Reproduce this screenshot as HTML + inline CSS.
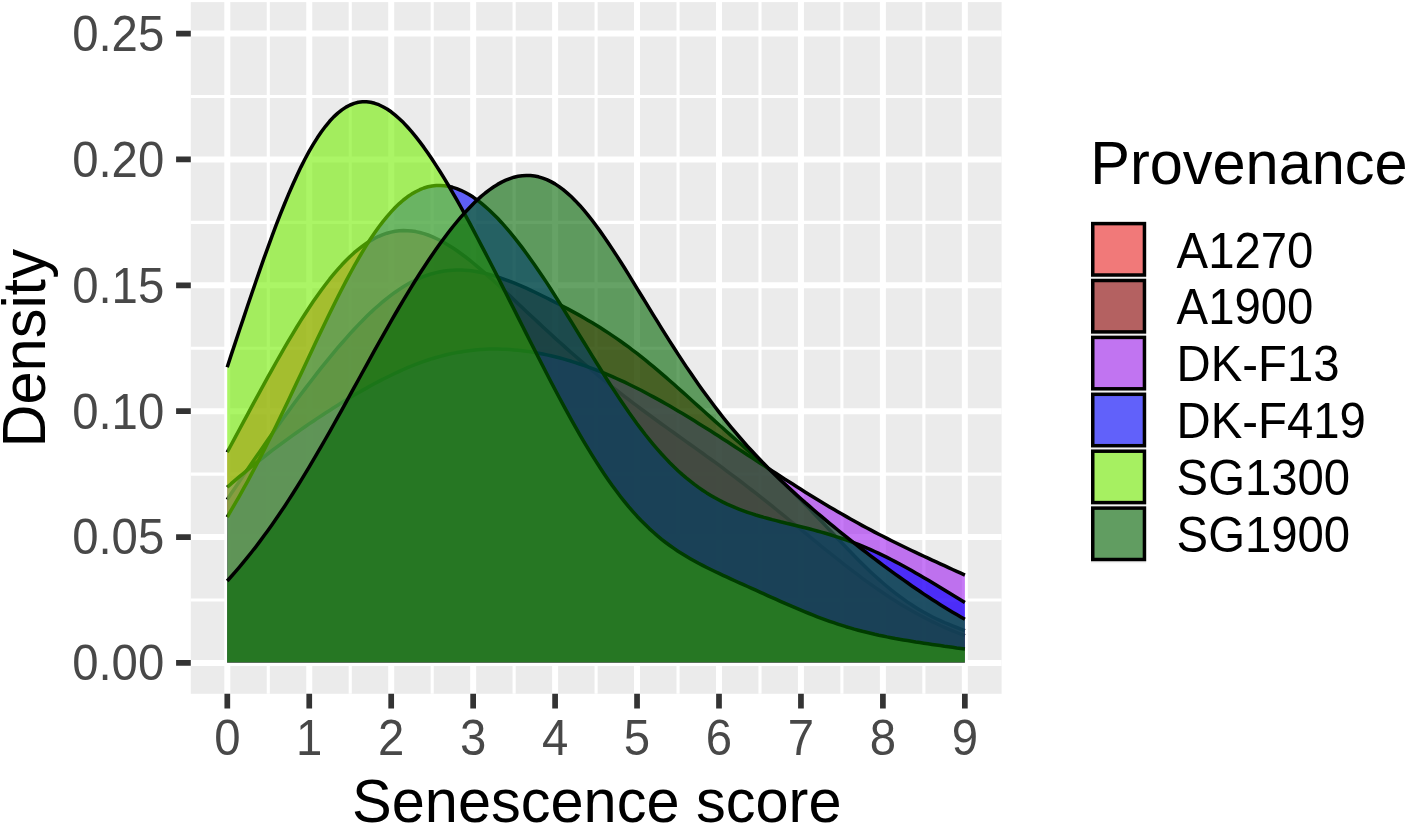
<!DOCTYPE html>
<html lang="en"><head><meta charset="utf-8"><title>Senescence score density</title>
<style>html,body{margin:0;padding:0;background:#fff}svg{display:block}text{font-family:"Liberation Sans",Arial,sans-serif}</style></head><body>
<svg width="1406" height="825" viewBox="0 0 1406 825">
<rect width="1406" height="825" fill="#ffffff"/>
<rect x="190.8" y="2.1" width="810.8" height="691.6999999999999" fill="#ebebeb"/>
<path d="M268.28 2.1V693.8M350.23 2.1V693.8M432.18 2.1V693.8M514.12 2.1V693.8M596.08 2.1V693.8M678.03 2.1V693.8M759.98 2.1V693.8M841.92 2.1V693.8M923.88 2.1V693.8M190.8 599.97H1001.6M190.8 474.11H1001.6M190.8 348.25H1001.6M190.8 222.39H1001.6M190.8 96.53H1001.6" stroke="#ffffff" stroke-width="3.1" fill="none"/>
<path d="M227.30 2.1V693.8M309.25 2.1V693.8M391.20 2.1V693.8M473.15 2.1V693.8M555.10 2.1V693.8M637.05 2.1V693.8M719.00 2.1V693.8M800.95 2.1V693.8M882.90 2.1V693.8M964.85 2.1V693.8M190.8 662.90H1001.6M190.8 537.04H1001.6M190.8 411.18H1001.6M190.8 285.32H1001.6M190.8 159.46H1001.6M190.8 33.60H1001.6" stroke="#ffffff" stroke-width="6.0" fill="none"/>
<path d="M227.2 452.2 L231.2 444.7 L235.3 437.1 L239.4 429.5 L243.5 421.9 L247.6 414.3 L251.7 406.7 L255.8 399.1 L259.9 391.6 L264.0 384.1 L268.1 376.6 L272.2 369.3 L276.3 362.0 L280.4 354.8 L284.5 347.7 L288.6 340.7 L292.7 333.8 L296.8 327.0 L300.9 320.4 L305.0 314.0 L309.1 307.7 L313.2 301.6 L317.3 295.7 L321.4 290.0 L325.5 284.5 L329.6 279.2 L333.7 274.2 L337.8 269.4 L341.9 264.8 L346.0 260.5 L350.1 256.5 L354.2 252.7 L358.3 249.3 L362.4 246.1 L366.5 243.2 L370.6 240.6 L374.7 238.3 L378.8 236.3 L382.9 234.6 L387.0 233.2 L391.1 232.1 L395.2 231.3 L399.3 230.8 L403.4 230.6 L407.5 230.7 L411.6 231.0 L415.7 231.6 L419.8 232.5 L423.9 233.6 L428.0 235.0 L432.1 236.6 L436.2 238.5 L440.3 240.5 L444.4 242.7 L448.5 245.2 L452.6 247.8 L456.7 250.5 L460.8 253.5 L464.9 256.5 L469.0 259.7 L473.1 263.0 L477.1 266.4 L481.2 269.9 L485.3 273.4 L489.4 277.1 L493.5 280.8 L497.6 284.5 L501.7 288.3 L505.8 292.1 L509.9 295.9 L514.0 299.8 L518.1 303.7 L522.2 307.5 L526.3 311.4 L530.4 315.2 L534.5 319.1 L538.6 322.9 L542.7 326.7 L546.8 330.5 L550.9 334.3 L555.0 338.1 L559.1 341.8 L563.2 345.4 L567.3 349.1 L571.4 352.7 L575.5 356.3 L579.6 359.8 L583.7 363.4 L587.8 366.8 L591.9 370.3 L596.0 373.7 L600.1 377.1 L604.2 380.4 L608.3 383.7 L612.4 387.0 L616.5 390.2 L620.6 393.4 L624.7 396.6 L628.8 399.7 L632.9 402.8 L637.0 405.9 L641.1 409.0 L645.2 412.0 L649.3 415.0 L653.4 418.0 L657.5 421.0 L661.6 424.0 L665.7 426.9 L669.8 429.9 L673.9 432.8 L678.0 435.7 L682.1 438.6 L686.2 441.6 L690.3 444.5 L694.4 447.4 L698.5 450.4 L702.6 453.3 L706.7 456.3 L710.8 459.2 L714.9 462.2 L719.0 465.2 L723.0 468.2 L727.1 471.3 L731.2 474.3 L735.3 477.4 L739.4 480.5 L743.5 483.7 L747.6 486.8 L751.7 490.0 L755.8 493.2 L759.9 496.4 L764.0 499.6 L768.1 502.9 L772.2 506.2 L776.3 509.5 L780.4 512.8 L784.5 516.1 L788.6 519.5 L792.7 522.8 L796.8 526.2 L800.9 529.5 L805.0 532.9 L809.1 536.2 L813.2 539.6 L817.3 542.9 L821.4 546.3 L825.5 549.6 L829.6 552.9 L833.7 556.2 L837.8 559.4 L841.9 562.7 L846.0 565.9 L850.1 569.0 L854.2 572.1 L858.3 575.2 L862.4 578.3 L866.5 581.3 L870.6 584.2 L874.7 587.1 L878.8 590.0 L882.9 592.8 L887.0 595.5 L891.1 598.2 L895.2 600.8 L899.3 603.4 L903.4 605.9 L907.5 608.3 L911.6 610.7 L915.7 613.0 L919.8 615.2 L923.9 617.4 L928.0 619.5 L932.1 621.6 L936.2 623.5 L940.3 625.5 L944.4 627.3 L948.5 629.1 L952.6 630.8 L956.7 632.5 L960.8 634.1 L964.9 635.6 L964.85 662.6 L227.15 662.6Z" fill="#f02828" fill-opacity="0.6" stroke="none"/>
<path d="M227.2 452.2 L231.2 444.7 L235.3 437.1 L239.4 429.5 L243.5 421.9 L247.6 414.3 L251.7 406.7 L255.8 399.1 L259.9 391.6 L264.0 384.1 L268.1 376.6 L272.2 369.3 L276.3 362.0 L280.4 354.8 L284.5 347.7 L288.6 340.7 L292.7 333.8 L296.8 327.0 L300.9 320.4 L305.0 314.0 L309.1 307.7 L313.2 301.6 L317.3 295.7 L321.4 290.0 L325.5 284.5 L329.6 279.2 L333.7 274.2 L337.8 269.4 L341.9 264.8 L346.0 260.5 L350.1 256.5 L354.2 252.7 L358.3 249.3 L362.4 246.1 L366.5 243.2 L370.6 240.6 L374.7 238.3 L378.8 236.3 L382.9 234.6 L387.0 233.2 L391.1 232.1 L395.2 231.3 L399.3 230.8 L403.4 230.6 L407.5 230.7 L411.6 231.0 L415.7 231.6 L419.8 232.5 L423.9 233.6 L428.0 235.0 L432.1 236.6 L436.2 238.5 L440.3 240.5 L444.4 242.7 L448.5 245.2 L452.6 247.8 L456.7 250.5 L460.8 253.5 L464.9 256.5 L469.0 259.7 L473.1 263.0 L477.1 266.4 L481.2 269.9 L485.3 273.4 L489.4 277.1 L493.5 280.8 L497.6 284.5 L501.7 288.3 L505.8 292.1 L509.9 295.9 L514.0 299.8 L518.1 303.7 L522.2 307.5 L526.3 311.4 L530.4 315.2 L534.5 319.1 L538.6 322.9 L542.7 326.7 L546.8 330.5 L550.9 334.3 L555.0 338.1 L559.1 341.8 L563.2 345.4 L567.3 349.1 L571.4 352.7 L575.5 356.3 L579.6 359.8 L583.7 363.4 L587.8 366.8 L591.9 370.3 L596.0 373.7 L600.1 377.1 L604.2 380.4 L608.3 383.7 L612.4 387.0 L616.5 390.2 L620.6 393.4 L624.7 396.6 L628.8 399.7 L632.9 402.8 L637.0 405.9 L641.1 409.0 L645.2 412.0 L649.3 415.0 L653.4 418.0 L657.5 421.0 L661.6 424.0 L665.7 426.9 L669.8 429.9 L673.9 432.8 L678.0 435.7 L682.1 438.6 L686.2 441.6 L690.3 444.5 L694.4 447.4 L698.5 450.4 L702.6 453.3 L706.7 456.3 L710.8 459.2 L714.9 462.2 L719.0 465.2 L723.0 468.2 L727.1 471.3 L731.2 474.3 L735.3 477.4 L739.4 480.5 L743.5 483.7 L747.6 486.8 L751.7 490.0 L755.8 493.2 L759.9 496.4 L764.0 499.6 L768.1 502.9 L772.2 506.2 L776.3 509.5 L780.4 512.8 L784.5 516.1 L788.6 519.5 L792.7 522.8 L796.8 526.2 L800.9 529.5 L805.0 532.9 L809.1 536.2 L813.2 539.6 L817.3 542.9 L821.4 546.3 L825.5 549.6 L829.6 552.9 L833.7 556.2 L837.8 559.4 L841.9 562.7 L846.0 565.9 L850.1 569.0 L854.2 572.1 L858.3 575.2 L862.4 578.3 L866.5 581.3 L870.6 584.2 L874.7 587.1 L878.8 590.0 L882.9 592.8 L887.0 595.5 L891.1 598.2 L895.2 600.8 L899.3 603.4 L903.4 605.9 L907.5 608.3 L911.6 610.7 L915.7 613.0 L919.8 615.2 L923.9 617.4 L928.0 619.5 L932.1 621.6 L936.2 623.5 L940.3 625.5 L944.4 627.3 L948.5 629.1 L952.6 630.8 L956.7 632.5 L960.8 634.1 L964.9 635.6" fill="none" stroke="#000000" stroke-width="3.5" stroke-linejoin="round" stroke-linecap="butt"/>
<path d="M227.2 499.6 L231.2 493.5 L235.3 487.4 L239.4 481.4 L243.5 475.3 L247.6 469.3 L251.7 463.3 L255.8 457.3 L259.9 451.4 L264.0 445.5 L268.1 439.6 L272.2 433.8 L276.3 428.0 L280.4 422.3 L284.5 416.6 L288.6 410.9 L292.7 405.3 L296.8 399.8 L300.9 394.3 L305.0 388.9 L309.1 383.5 L313.2 378.2 L317.3 372.9 L321.4 367.7 L325.5 362.6 L329.6 357.6 L333.7 352.6 L337.8 347.7 L341.9 343.0 L346.0 338.3 L350.1 333.7 L354.2 329.2 L358.3 324.9 L362.4 320.7 L366.5 316.6 L370.6 312.6 L374.7 308.8 L378.8 305.2 L382.9 301.7 L387.0 298.3 L391.1 295.2 L395.2 292.2 L399.3 289.4 L403.4 286.7 L407.5 284.3 L411.6 282.0 L415.7 280.0 L419.8 278.1 L423.9 276.4 L428.0 275.0 L432.1 273.7 L436.2 272.6 L440.3 271.7 L444.4 271.0 L448.5 270.5 L452.6 270.2 L456.7 270.0 L460.8 270.0 L464.9 270.2 L469.0 270.6 L473.1 271.1 L477.1 271.7 L481.2 272.5 L485.3 273.4 L489.4 274.5 L493.5 275.6 L497.6 276.9 L501.7 278.3 L505.8 279.8 L509.9 281.3 L514.0 282.9 L518.1 284.6 L522.2 286.4 L526.3 288.2 L530.4 290.1 L534.5 292.0 L538.6 294.0 L542.7 296.0 L546.8 298.0 L550.9 300.1 L555.0 302.2 L559.1 304.3 L563.2 306.5 L567.3 308.6 L571.4 310.9 L575.5 313.1 L579.6 315.4 L583.7 317.8 L587.8 320.2 L591.9 322.6 L596.0 325.1 L600.1 327.6 L604.2 330.2 L608.3 332.9 L612.4 335.6 L616.5 338.4 L620.6 341.3 L624.7 344.2 L628.8 347.2 L632.9 350.3 L637.0 353.4 L641.1 356.7 L645.2 359.9 L649.3 363.3 L653.4 366.7 L657.5 370.1 L661.6 373.6 L665.7 377.1 L669.8 380.7 L673.9 384.3 L678.0 388.0 L682.1 391.6 L686.2 395.3 L690.3 399.0 L694.4 402.7 L698.5 406.4 L702.6 410.0 L706.7 413.7 L710.8 417.4 L714.9 421.1 L719.0 424.7 L723.0 428.3 L727.1 432.0 L731.2 435.6 L735.3 439.2 L739.4 442.8 L743.5 446.4 L747.6 450.1 L751.7 453.7 L755.8 457.4 L759.9 461.0 L764.0 464.7 L768.1 468.5 L772.2 472.3 L776.3 476.1 L780.4 479.9 L784.5 483.9 L788.6 487.8 L792.7 491.8 L796.8 495.9 L800.9 500.0 L805.0 504.2 L809.1 508.4 L813.2 512.7 L817.3 517.0 L821.4 521.3 L825.5 525.6 L829.6 530.0 L833.7 534.3 L837.8 538.7 L841.9 543.0 L846.0 547.3 L850.1 551.5 L854.2 555.8 L858.3 559.9 L862.4 564.0 L866.5 568.0 L870.6 571.9 L874.7 575.7 L878.8 579.4 L882.9 583.0 L887.0 586.5 L891.1 589.9 L895.2 593.1 L899.3 596.2 L903.4 599.2 L907.5 602.1 L911.6 604.8 L915.7 607.4 L919.8 609.9 L923.9 612.3 L928.0 614.5 L932.1 616.7 L936.2 618.7 L940.3 620.6 L944.4 622.5 L948.5 624.2 L952.6 625.9 L956.7 627.5 L960.8 629.1 L964.9 630.6 L964.85 662.6 L227.15 662.6Z" fill="#8b0000" fill-opacity="0.6" stroke="none"/>
<path d="M227.2 499.6 L231.2 493.5 L235.3 487.4 L239.4 481.4 L243.5 475.3 L247.6 469.3 L251.7 463.3 L255.8 457.3 L259.9 451.4 L264.0 445.5 L268.1 439.6 L272.2 433.8 L276.3 428.0 L280.4 422.3 L284.5 416.6 L288.6 410.9 L292.7 405.3 L296.8 399.8 L300.9 394.3 L305.0 388.9 L309.1 383.5 L313.2 378.2 L317.3 372.9 L321.4 367.7 L325.5 362.6 L329.6 357.6 L333.7 352.6 L337.8 347.7 L341.9 343.0 L346.0 338.3 L350.1 333.7 L354.2 329.2 L358.3 324.9 L362.4 320.7 L366.5 316.6 L370.6 312.6 L374.7 308.8 L378.8 305.2 L382.9 301.7 L387.0 298.3 L391.1 295.2 L395.2 292.2 L399.3 289.4 L403.4 286.7 L407.5 284.3 L411.6 282.0 L415.7 280.0 L419.8 278.1 L423.9 276.4 L428.0 275.0 L432.1 273.7 L436.2 272.6 L440.3 271.7 L444.4 271.0 L448.5 270.5 L452.6 270.2 L456.7 270.0 L460.8 270.0 L464.9 270.2 L469.0 270.6 L473.1 271.1 L477.1 271.7 L481.2 272.5 L485.3 273.4 L489.4 274.5 L493.5 275.6 L497.6 276.9 L501.7 278.3 L505.8 279.8 L509.9 281.3 L514.0 282.9 L518.1 284.6 L522.2 286.4 L526.3 288.2 L530.4 290.1 L534.5 292.0 L538.6 294.0 L542.7 296.0 L546.8 298.0 L550.9 300.1 L555.0 302.2 L559.1 304.3 L563.2 306.5 L567.3 308.6 L571.4 310.9 L575.5 313.1 L579.6 315.4 L583.7 317.8 L587.8 320.2 L591.9 322.6 L596.0 325.1 L600.1 327.6 L604.2 330.2 L608.3 332.9 L612.4 335.6 L616.5 338.4 L620.6 341.3 L624.7 344.2 L628.8 347.2 L632.9 350.3 L637.0 353.4 L641.1 356.7 L645.2 359.9 L649.3 363.3 L653.4 366.7 L657.5 370.1 L661.6 373.6 L665.7 377.1 L669.8 380.7 L673.9 384.3 L678.0 388.0 L682.1 391.6 L686.2 395.3 L690.3 399.0 L694.4 402.7 L698.5 406.4 L702.6 410.0 L706.7 413.7 L710.8 417.4 L714.9 421.1 L719.0 424.7 L723.0 428.3 L727.1 432.0 L731.2 435.6 L735.3 439.2 L739.4 442.8 L743.5 446.4 L747.6 450.1 L751.7 453.7 L755.8 457.4 L759.9 461.0 L764.0 464.7 L768.1 468.5 L772.2 472.3 L776.3 476.1 L780.4 479.9 L784.5 483.9 L788.6 487.8 L792.7 491.8 L796.8 495.9 L800.9 500.0 L805.0 504.2 L809.1 508.4 L813.2 512.7 L817.3 517.0 L821.4 521.3 L825.5 525.6 L829.6 530.0 L833.7 534.3 L837.8 538.7 L841.9 543.0 L846.0 547.3 L850.1 551.5 L854.2 555.8 L858.3 559.9 L862.4 564.0 L866.5 568.0 L870.6 571.9 L874.7 575.7 L878.8 579.4 L882.9 583.0 L887.0 586.5 L891.1 589.9 L895.2 593.1 L899.3 596.2 L903.4 599.2 L907.5 602.1 L911.6 604.8 L915.7 607.4 L919.8 609.9 L923.9 612.3 L928.0 614.5 L932.1 616.7 L936.2 618.7 L940.3 620.6 L944.4 622.5 L948.5 624.2 L952.6 625.9 L956.7 627.5 L960.8 629.1 L964.9 630.6" fill="none" stroke="#000000" stroke-width="3.5" stroke-linejoin="round" stroke-linecap="butt"/>
<path d="M227.2 487.3 L231.2 483.7 L235.3 480.2 L239.4 476.7 L243.5 473.3 L247.6 469.9 L251.7 466.5 L255.8 463.2 L259.9 460.0 L264.0 456.8 L268.1 453.6 L272.2 450.4 L276.3 447.4 L280.4 444.3 L284.5 441.3 L288.6 438.3 L292.7 435.4 L296.8 432.5 L300.9 429.6 L305.0 426.8 L309.1 423.9 L313.2 421.2 L317.3 418.4 L321.4 415.7 L325.5 413.0 L329.6 410.4 L333.7 407.7 L337.8 405.2 L341.9 402.6 L346.0 400.1 L350.1 397.6 L354.2 395.1 L358.3 392.7 L362.4 390.4 L366.5 388.1 L370.6 385.8 L374.7 383.5 L378.8 381.4 L382.9 379.2 L387.0 377.2 L391.1 375.2 L395.2 373.2 L399.3 371.3 L403.4 369.5 L407.5 367.7 L411.6 366.0 L415.7 364.4 L419.8 362.9 L423.9 361.4 L428.0 360.0 L432.1 358.7 L436.2 357.5 L440.3 356.4 L444.4 355.3 L448.5 354.3 L452.6 353.4 L456.7 352.6 L460.8 351.9 L464.9 351.3 L469.0 350.7 L473.1 350.2 L477.1 349.8 L481.2 349.5 L485.3 349.3 L489.4 349.1 L493.5 349.1 L497.6 349.1 L501.7 349.2 L505.8 349.3 L509.9 349.6 L514.0 349.9 L518.1 350.3 L522.2 350.7 L526.3 351.2 L530.4 351.8 L534.5 352.5 L538.6 353.2 L542.7 354.0 L546.8 354.9 L550.9 355.8 L555.0 356.8 L559.1 357.8 L563.2 358.9 L567.3 360.1 L571.4 361.3 L575.5 362.6 L579.6 364.0 L583.7 365.4 L587.8 366.8 L591.9 368.3 L596.0 369.9 L600.1 371.5 L604.2 373.2 L608.3 374.9 L612.4 376.6 L616.5 378.5 L620.6 380.3 L624.7 382.2 L628.8 384.2 L632.9 386.2 L637.0 388.3 L641.1 390.3 L645.2 392.5 L649.3 394.7 L653.4 396.9 L657.5 399.1 L661.6 401.4 L665.7 403.7 L669.8 406.1 L673.9 408.5 L678.0 410.9 L682.1 413.3 L686.2 415.8 L690.3 418.3 L694.4 420.8 L698.5 423.4 L702.6 425.9 L706.7 428.5 L710.8 431.1 L714.9 433.7 L719.0 436.3 L723.0 439.0 L727.1 441.6 L731.2 444.3 L735.3 446.9 L739.4 449.6 L743.5 452.3 L747.6 454.9 L751.7 457.6 L755.8 460.3 L759.9 463.0 L764.0 465.6 L768.1 468.3 L772.2 471.0 L776.3 473.6 L780.4 476.3 L784.5 478.9 L788.6 481.5 L792.7 484.1 L796.8 486.7 L800.9 489.3 L805.0 491.9 L809.1 494.4 L813.2 497.0 L817.3 499.5 L821.4 502.0 L825.5 504.4 L829.6 506.9 L833.7 509.3 L837.8 511.7 L841.9 514.1 L846.0 516.4 L850.1 518.8 L854.2 521.0 L858.3 523.3 L862.4 525.6 L866.5 527.8 L870.6 529.9 L874.7 532.1 L878.8 534.2 L882.9 536.3 L887.0 538.4 L891.1 540.5 L895.2 542.5 L899.3 544.5 L903.4 546.5 L907.5 548.5 L911.6 550.5 L915.7 552.4 L919.8 554.3 L923.9 556.3 L928.0 558.2 L932.1 560.1 L936.2 561.9 L940.3 563.8 L944.4 565.7 L948.5 567.6 L952.6 569.5 L956.7 571.3 L960.8 573.2 L964.9 575.1 L964.85 662.6 L227.15 662.6Z" fill="#a020f0" fill-opacity="0.6" stroke="none"/>
<path d="M227.2 487.3 L231.2 483.7 L235.3 480.2 L239.4 476.7 L243.5 473.3 L247.6 469.9 L251.7 466.5 L255.8 463.2 L259.9 460.0 L264.0 456.8 L268.1 453.6 L272.2 450.4 L276.3 447.4 L280.4 444.3 L284.5 441.3 L288.6 438.3 L292.7 435.4 L296.8 432.5 L300.9 429.6 L305.0 426.8 L309.1 423.9 L313.2 421.2 L317.3 418.4 L321.4 415.7 L325.5 413.0 L329.6 410.4 L333.7 407.7 L337.8 405.2 L341.9 402.6 L346.0 400.1 L350.1 397.6 L354.2 395.1 L358.3 392.7 L362.4 390.4 L366.5 388.1 L370.6 385.8 L374.7 383.5 L378.8 381.4 L382.9 379.2 L387.0 377.2 L391.1 375.2 L395.2 373.2 L399.3 371.3 L403.4 369.5 L407.5 367.7 L411.6 366.0 L415.7 364.4 L419.8 362.9 L423.9 361.4 L428.0 360.0 L432.1 358.7 L436.2 357.5 L440.3 356.4 L444.4 355.3 L448.5 354.3 L452.6 353.4 L456.7 352.6 L460.8 351.9 L464.9 351.3 L469.0 350.7 L473.1 350.2 L477.1 349.8 L481.2 349.5 L485.3 349.3 L489.4 349.1 L493.5 349.1 L497.6 349.1 L501.7 349.2 L505.8 349.3 L509.9 349.6 L514.0 349.9 L518.1 350.3 L522.2 350.7 L526.3 351.2 L530.4 351.8 L534.5 352.5 L538.6 353.2 L542.7 354.0 L546.8 354.9 L550.9 355.8 L555.0 356.8 L559.1 357.8 L563.2 358.9 L567.3 360.1 L571.4 361.3 L575.5 362.6 L579.6 364.0 L583.7 365.4 L587.8 366.8 L591.9 368.3 L596.0 369.9 L600.1 371.5 L604.2 373.2 L608.3 374.9 L612.4 376.6 L616.5 378.5 L620.6 380.3 L624.7 382.2 L628.8 384.2 L632.9 386.2 L637.0 388.3 L641.1 390.3 L645.2 392.5 L649.3 394.7 L653.4 396.9 L657.5 399.1 L661.6 401.4 L665.7 403.7 L669.8 406.1 L673.9 408.5 L678.0 410.9 L682.1 413.3 L686.2 415.8 L690.3 418.3 L694.4 420.8 L698.5 423.4 L702.6 425.9 L706.7 428.5 L710.8 431.1 L714.9 433.7 L719.0 436.3 L723.0 439.0 L727.1 441.6 L731.2 444.3 L735.3 446.9 L739.4 449.6 L743.5 452.3 L747.6 454.9 L751.7 457.6 L755.8 460.3 L759.9 463.0 L764.0 465.6 L768.1 468.3 L772.2 471.0 L776.3 473.6 L780.4 476.3 L784.5 478.9 L788.6 481.5 L792.7 484.1 L796.8 486.7 L800.9 489.3 L805.0 491.9 L809.1 494.4 L813.2 497.0 L817.3 499.5 L821.4 502.0 L825.5 504.4 L829.6 506.9 L833.7 509.3 L837.8 511.7 L841.9 514.1 L846.0 516.4 L850.1 518.8 L854.2 521.0 L858.3 523.3 L862.4 525.6 L866.5 527.8 L870.6 529.9 L874.7 532.1 L878.8 534.2 L882.9 536.3 L887.0 538.4 L891.1 540.5 L895.2 542.5 L899.3 544.5 L903.4 546.5 L907.5 548.5 L911.6 550.5 L915.7 552.4 L919.8 554.3 L923.9 556.3 L928.0 558.2 L932.1 560.1 L936.2 561.9 L940.3 563.8 L944.4 565.7 L948.5 567.6 L952.6 569.5 L956.7 571.3 L960.8 573.2 L964.9 575.1" fill="none" stroke="#000000" stroke-width="3.5" stroke-linejoin="round" stroke-linecap="butt"/>
<path d="M227.2 517.1 L231.2 510.2 L235.3 503.2 L239.4 496.1 L243.5 488.7 L247.6 481.3 L251.7 473.7 L255.8 466.0 L259.9 458.1 L264.0 450.1 L268.1 442.0 L272.2 433.8 L276.3 425.4 L280.4 417.0 L284.5 408.5 L288.6 399.9 L292.7 391.3 L296.8 382.6 L300.9 373.9 L305.0 365.2 L309.1 356.5 L313.2 347.8 L317.3 339.1 L321.4 330.5 L325.5 322.0 L329.6 313.5 L333.7 305.2 L337.8 297.0 L341.9 289.0 L346.0 281.1 L350.1 273.5 L354.2 266.0 L358.3 258.8 L362.4 251.9 L366.5 245.2 L370.6 238.8 L374.7 232.8 L378.8 227.0 L382.9 221.6 L387.0 216.6 L391.1 211.9 L395.2 207.5 L399.3 203.6 L403.4 200.0 L407.5 196.8 L411.6 194.1 L415.7 191.7 L419.8 189.7 L423.9 188.0 L428.0 186.8 L432.1 186.0 L436.2 185.5 L440.3 185.4 L444.4 185.7 L448.5 186.3 L452.6 187.3 L456.7 188.6 L460.8 190.3 L464.9 192.3 L469.0 194.5 L473.1 197.1 L477.1 200.0 L481.2 203.1 L485.3 206.6 L489.4 210.2 L493.5 214.2 L497.6 218.3 L501.7 222.7 L505.8 227.3 L509.9 232.1 L514.0 237.1 L518.1 242.3 L522.2 247.6 L526.3 253.2 L530.4 258.9 L534.5 264.7 L538.6 270.7 L542.7 276.7 L546.8 282.9 L550.9 289.3 L555.0 295.7 L559.1 302.1 L563.2 308.7 L567.3 315.3 L571.4 321.9 L575.5 328.6 L579.6 335.3 L583.7 342.0 L587.8 348.7 L591.9 355.3 L596.0 362.0 L600.1 368.5 L604.2 375.1 L608.3 381.5 L612.4 387.9 L616.5 394.1 L620.6 400.3 L624.7 406.3 L628.8 412.3 L632.9 418.0 L637.0 423.7 L641.1 429.1 L645.2 434.5 L649.3 439.6 L653.4 444.6 L657.5 449.4 L661.6 454.0 L665.7 458.4 L669.8 462.7 L673.9 466.8 L678.0 470.7 L682.1 474.4 L686.2 477.9 L690.3 481.2 L694.4 484.4 L698.5 487.4 L702.6 490.2 L706.7 492.9 L710.8 495.4 L714.9 497.8 L719.0 500.0 L723.0 502.1 L727.1 504.1 L731.2 505.9 L735.3 507.7 L739.4 509.3 L743.5 510.8 L747.6 512.3 L751.7 513.7 L755.8 515.0 L759.9 516.2 L764.0 517.4 L768.1 518.5 L772.2 519.6 L776.3 520.6 L780.4 521.7 L784.5 522.7 L788.6 523.7 L792.7 524.7 L796.8 525.7 L800.9 526.7 L805.0 527.7 L809.1 528.8 L813.2 529.9 L817.3 531.0 L821.4 532.1 L825.5 533.3 L829.6 534.5 L833.7 535.8 L837.8 537.1 L841.9 538.5 L846.0 539.9 L850.1 541.4 L854.2 542.9 L858.3 544.5 L862.4 546.2 L866.5 547.9 L870.6 549.7 L874.7 551.5 L878.8 553.4 L882.9 555.4 L887.0 557.4 L891.1 559.5 L895.2 561.6 L899.3 563.7 L903.4 566.0 L907.5 568.2 L911.6 570.5 L915.7 572.9 L919.8 575.3 L923.9 577.7 L928.0 580.1 L932.1 582.6 L936.2 585.1 L940.3 587.6 L944.4 590.1 L948.5 592.6 L952.6 595.1 L956.7 597.6 L960.8 600.1 L964.9 602.6 L964.85 662.6 L227.15 662.6Z" fill="#0000ff" fill-opacity="0.6" stroke="none"/>
<path d="M227.2 517.1 L231.2 510.2 L235.3 503.2 L239.4 496.1 L243.5 488.7 L247.6 481.3 L251.7 473.7 L255.8 466.0 L259.9 458.1 L264.0 450.1 L268.1 442.0 L272.2 433.8 L276.3 425.4 L280.4 417.0 L284.5 408.5 L288.6 399.9 L292.7 391.3 L296.8 382.6 L300.9 373.9 L305.0 365.2 L309.1 356.5 L313.2 347.8 L317.3 339.1 L321.4 330.5 L325.5 322.0 L329.6 313.5 L333.7 305.2 L337.8 297.0 L341.9 289.0 L346.0 281.1 L350.1 273.5 L354.2 266.0 L358.3 258.8 L362.4 251.9 L366.5 245.2 L370.6 238.8 L374.7 232.8 L378.8 227.0 L382.9 221.6 L387.0 216.6 L391.1 211.9 L395.2 207.5 L399.3 203.6 L403.4 200.0 L407.5 196.8 L411.6 194.1 L415.7 191.7 L419.8 189.7 L423.9 188.0 L428.0 186.8 L432.1 186.0 L436.2 185.5 L440.3 185.4 L444.4 185.7 L448.5 186.3 L452.6 187.3 L456.7 188.6 L460.8 190.3 L464.9 192.3 L469.0 194.5 L473.1 197.1 L477.1 200.0 L481.2 203.1 L485.3 206.6 L489.4 210.2 L493.5 214.2 L497.6 218.3 L501.7 222.7 L505.8 227.3 L509.9 232.1 L514.0 237.1 L518.1 242.3 L522.2 247.6 L526.3 253.2 L530.4 258.9 L534.5 264.7 L538.6 270.7 L542.7 276.7 L546.8 282.9 L550.9 289.3 L555.0 295.7 L559.1 302.1 L563.2 308.7 L567.3 315.3 L571.4 321.9 L575.5 328.6 L579.6 335.3 L583.7 342.0 L587.8 348.7 L591.9 355.3 L596.0 362.0 L600.1 368.5 L604.2 375.1 L608.3 381.5 L612.4 387.9 L616.5 394.1 L620.6 400.3 L624.7 406.3 L628.8 412.3 L632.9 418.0 L637.0 423.7 L641.1 429.1 L645.2 434.5 L649.3 439.6 L653.4 444.6 L657.5 449.4 L661.6 454.0 L665.7 458.4 L669.8 462.7 L673.9 466.8 L678.0 470.7 L682.1 474.4 L686.2 477.9 L690.3 481.2 L694.4 484.4 L698.5 487.4 L702.6 490.2 L706.7 492.9 L710.8 495.4 L714.9 497.8 L719.0 500.0 L723.0 502.1 L727.1 504.1 L731.2 505.9 L735.3 507.7 L739.4 509.3 L743.5 510.8 L747.6 512.3 L751.7 513.7 L755.8 515.0 L759.9 516.2 L764.0 517.4 L768.1 518.5 L772.2 519.6 L776.3 520.6 L780.4 521.7 L784.5 522.7 L788.6 523.7 L792.7 524.7 L796.8 525.7 L800.9 526.7 L805.0 527.7 L809.1 528.8 L813.2 529.9 L817.3 531.0 L821.4 532.1 L825.5 533.3 L829.6 534.5 L833.7 535.8 L837.8 537.1 L841.9 538.5 L846.0 539.9 L850.1 541.4 L854.2 542.9 L858.3 544.5 L862.4 546.2 L866.5 547.9 L870.6 549.7 L874.7 551.5 L878.8 553.4 L882.9 555.4 L887.0 557.4 L891.1 559.5 L895.2 561.6 L899.3 563.7 L903.4 566.0 L907.5 568.2 L911.6 570.5 L915.7 572.9 L919.8 575.3 L923.9 577.7 L928.0 580.1 L932.1 582.6 L936.2 585.1 L940.3 587.6 L944.4 590.1 L948.5 592.6 L952.6 595.1 L956.7 597.6 L960.8 600.1 L964.9 602.6" fill="none" stroke="#000000" stroke-width="3.5" stroke-linejoin="round" stroke-linecap="butt"/>
<path d="M227.2 367.2 L231.2 354.9 L235.3 342.6 L239.4 330.3 L243.5 318.1 L247.6 305.8 L251.7 293.7 L255.8 281.7 L259.9 269.9 L264.0 258.2 L268.1 246.8 L272.2 235.6 L276.3 224.7 L280.4 214.2 L284.5 204.0 L288.6 194.1 L292.7 184.7 L296.8 175.7 L300.9 167.1 L305.0 159.0 L309.1 151.4 L313.2 144.4 L317.3 137.8 L321.4 131.8 L325.5 126.3 L329.6 121.3 L333.7 116.9 L337.8 113.1 L341.9 109.9 L346.0 107.1 L350.1 105.0 L354.2 103.4 L358.3 102.3 L362.4 101.8 L366.5 101.8 L370.6 102.3 L374.7 103.3 L378.8 104.7 L382.9 106.7 L387.0 109.0 L391.1 111.8 L395.2 115.1 L399.3 118.7 L403.4 122.6 L407.5 127.0 L411.6 131.6 L415.7 136.6 L419.8 141.9 L423.9 147.4 L428.0 153.2 L432.1 159.3 L436.2 165.6 L440.3 172.0 L444.4 178.7 L448.5 185.5 L452.6 192.6 L456.7 199.7 L460.8 207.0 L464.9 214.4 L469.0 221.9 L473.1 229.6 L477.1 237.3 L481.2 245.1 L485.3 252.9 L489.4 260.8 L493.5 268.8 L497.6 276.8 L501.7 284.9 L505.8 293.0 L509.9 301.1 L514.0 309.2 L518.1 317.4 L522.2 325.5 L526.3 333.6 L530.4 341.7 L534.5 349.8 L538.6 357.8 L542.7 365.8 L546.8 373.8 L550.9 381.7 L555.0 389.5 L559.1 397.2 L563.2 404.8 L567.3 412.4 L571.4 419.8 L575.5 427.1 L579.6 434.3 L583.7 441.3 L587.8 448.2 L591.9 454.9 L596.0 461.4 L600.1 467.8 L604.2 474.0 L608.3 480.0 L612.4 485.8 L616.5 491.3 L620.6 496.7 L624.7 501.9 L628.8 506.9 L632.9 511.6 L637.0 516.2 L641.1 520.5 L645.2 524.6 L649.3 528.6 L653.4 532.3 L657.5 535.9 L661.6 539.3 L665.7 542.5 L669.8 545.5 L673.9 548.4 L678.0 551.2 L682.1 553.8 L686.2 556.3 L690.3 558.7 L694.4 561.0 L698.5 563.3 L702.6 565.4 L706.7 567.5 L710.8 569.5 L714.9 571.5 L719.0 573.4 L723.0 575.3 L727.1 577.2 L731.2 579.1 L735.3 581.0 L739.4 582.8 L743.5 584.7 L747.6 586.5 L751.7 588.4 L755.8 590.2 L759.9 592.1 L764.0 593.9 L768.1 595.8 L772.2 597.6 L776.3 599.4 L780.4 601.3 L784.5 603.1 L788.6 604.9 L792.7 606.7 L796.8 608.4 L800.9 610.2 L805.0 611.9 L809.1 613.5 L813.2 615.2 L817.3 616.8 L821.4 618.3 L825.5 619.8 L829.6 621.3 L833.7 622.7 L837.8 624.1 L841.9 625.4 L846.0 626.7 L850.1 627.9 L854.2 629.1 L858.3 630.2 L862.4 631.3 L866.5 632.3 L870.6 633.3 L874.7 634.3 L878.8 635.2 L882.9 636.0 L887.0 636.9 L891.1 637.7 L895.2 638.5 L899.3 639.2 L903.4 639.9 L907.5 640.6 L911.6 641.3 L915.7 642.0 L919.8 642.6 L923.9 643.2 L928.0 643.8 L932.1 644.4 L936.2 645.0 L940.3 645.6 L944.4 646.2 L948.5 646.7 L952.6 647.3 L956.7 647.9 L960.8 648.4 L964.9 648.9 L964.85 662.6 L227.15 662.6Z" fill="#73ef00" fill-opacity="0.6" stroke="none"/>
<path d="M227.2 367.2 L231.2 354.9 L235.3 342.6 L239.4 330.3 L243.5 318.1 L247.6 305.8 L251.7 293.7 L255.8 281.7 L259.9 269.9 L264.0 258.2 L268.1 246.8 L272.2 235.6 L276.3 224.7 L280.4 214.2 L284.5 204.0 L288.6 194.1 L292.7 184.7 L296.8 175.7 L300.9 167.1 L305.0 159.0 L309.1 151.4 L313.2 144.4 L317.3 137.8 L321.4 131.8 L325.5 126.3 L329.6 121.3 L333.7 116.9 L337.8 113.1 L341.9 109.9 L346.0 107.1 L350.1 105.0 L354.2 103.4 L358.3 102.3 L362.4 101.8 L366.5 101.8 L370.6 102.3 L374.7 103.3 L378.8 104.7 L382.9 106.7 L387.0 109.0 L391.1 111.8 L395.2 115.1 L399.3 118.7 L403.4 122.6 L407.5 127.0 L411.6 131.6 L415.7 136.6 L419.8 141.9 L423.9 147.4 L428.0 153.2 L432.1 159.3 L436.2 165.6 L440.3 172.0 L444.4 178.7 L448.5 185.5 L452.6 192.6 L456.7 199.7 L460.8 207.0 L464.9 214.4 L469.0 221.9 L473.1 229.6 L477.1 237.3 L481.2 245.1 L485.3 252.9 L489.4 260.8 L493.5 268.8 L497.6 276.8 L501.7 284.9 L505.8 293.0 L509.9 301.1 L514.0 309.2 L518.1 317.4 L522.2 325.5 L526.3 333.6 L530.4 341.7 L534.5 349.8 L538.6 357.8 L542.7 365.8 L546.8 373.8 L550.9 381.7 L555.0 389.5 L559.1 397.2 L563.2 404.8 L567.3 412.4 L571.4 419.8 L575.5 427.1 L579.6 434.3 L583.7 441.3 L587.8 448.2 L591.9 454.9 L596.0 461.4 L600.1 467.8 L604.2 474.0 L608.3 480.0 L612.4 485.8 L616.5 491.3 L620.6 496.7 L624.7 501.9 L628.8 506.9 L632.9 511.6 L637.0 516.2 L641.1 520.5 L645.2 524.6 L649.3 528.6 L653.4 532.3 L657.5 535.9 L661.6 539.3 L665.7 542.5 L669.8 545.5 L673.9 548.4 L678.0 551.2 L682.1 553.8 L686.2 556.3 L690.3 558.7 L694.4 561.0 L698.5 563.3 L702.6 565.4 L706.7 567.5 L710.8 569.5 L714.9 571.5 L719.0 573.4 L723.0 575.3 L727.1 577.2 L731.2 579.1 L735.3 581.0 L739.4 582.8 L743.5 584.7 L747.6 586.5 L751.7 588.4 L755.8 590.2 L759.9 592.1 L764.0 593.9 L768.1 595.8 L772.2 597.6 L776.3 599.4 L780.4 601.3 L784.5 603.1 L788.6 604.9 L792.7 606.7 L796.8 608.4 L800.9 610.2 L805.0 611.9 L809.1 613.5 L813.2 615.2 L817.3 616.8 L821.4 618.3 L825.5 619.8 L829.6 621.3 L833.7 622.7 L837.8 624.1 L841.9 625.4 L846.0 626.7 L850.1 627.9 L854.2 629.1 L858.3 630.2 L862.4 631.3 L866.5 632.3 L870.6 633.3 L874.7 634.3 L878.8 635.2 L882.9 636.0 L887.0 636.9 L891.1 637.7 L895.2 638.5 L899.3 639.2 L903.4 639.9 L907.5 640.6 L911.6 641.3 L915.7 642.0 L919.8 642.6 L923.9 643.2 L928.0 643.8 L932.1 644.4 L936.2 645.0 L940.3 645.6 L944.4 646.2 L948.5 646.7 L952.6 647.3 L956.7 647.9 L960.8 648.4 L964.9 648.9" fill="none" stroke="#000000" stroke-width="3.5" stroke-linejoin="round" stroke-linecap="butt"/>
<path d="M227.2 581.0 L231.2 576.5 L235.3 571.8 L239.4 567.1 L243.5 562.2 L247.6 557.2 L251.7 552.0 L255.8 546.8 L259.9 541.4 L264.0 535.8 L268.1 530.2 L272.2 524.4 L276.3 518.5 L280.4 512.5 L284.5 506.4 L288.6 500.1 L292.7 493.7 L296.8 487.2 L300.9 480.6 L305.0 473.9 L309.1 467.1 L313.2 460.2 L317.3 453.2 L321.4 446.2 L325.5 439.0 L329.6 431.8 L333.7 424.5 L337.8 417.2 L341.9 409.8 L346.0 402.4 L350.1 394.9 L354.2 387.4 L358.3 380.0 L362.4 372.5 L366.5 365.1 L370.6 357.6 L374.7 350.2 L378.8 342.9 L382.9 335.6 L387.0 328.3 L391.1 321.1 L395.2 314.0 L399.3 307.0 L403.4 300.1 L407.5 293.3 L411.6 286.6 L415.7 280.0 L419.8 273.5 L423.9 267.2 L428.0 261.0 L432.1 254.9 L436.2 249.0 L440.3 243.2 L444.4 237.7 L448.5 232.3 L452.6 227.0 L456.7 222.0 L460.8 217.2 L464.9 212.6 L469.0 208.2 L473.1 204.0 L477.1 200.1 L481.2 196.4 L485.3 193.0 L489.4 189.9 L493.5 187.0 L497.6 184.4 L501.7 182.1 L505.8 180.2 L509.9 178.6 L514.0 177.2 L518.1 176.3 L522.2 175.7 L526.3 175.4 L530.4 175.5 L534.5 176.0 L538.6 176.8 L542.7 178.1 L546.8 179.6 L550.9 181.6 L555.0 183.9 L559.1 186.6 L563.2 189.7 L567.3 193.1 L571.4 196.8 L575.5 200.9 L579.6 205.2 L583.7 209.9 L587.8 214.8 L591.9 220.0 L596.0 225.5 L600.1 231.1 L604.2 236.9 L608.3 242.9 L612.4 249.1 L616.5 255.4 L620.6 261.8 L624.7 268.3 L628.8 274.9 L632.9 281.6 L637.0 288.3 L641.1 295.0 L645.2 301.7 L649.3 308.4 L653.4 315.1 L657.5 321.7 L661.6 328.3 L665.7 334.9 L669.8 341.4 L673.9 347.8 L678.0 354.1 L682.1 360.4 L686.2 366.6 L690.3 372.6 L694.4 378.6 L698.5 384.4 L702.6 390.2 L706.7 395.8 L710.8 401.3 L714.9 406.8 L719.0 412.1 L723.0 417.3 L727.1 422.4 L731.2 427.3 L735.3 432.2 L739.4 437.0 L743.5 441.7 L747.6 446.3 L751.7 450.8 L755.8 455.2 L759.9 459.5 L764.0 463.7 L768.1 467.9 L772.2 471.9 L776.3 475.9 L780.4 479.9 L784.5 483.8 L788.6 487.6 L792.7 491.4 L796.8 495.1 L800.9 498.7 L805.0 502.4 L809.1 505.9 L813.2 509.5 L817.3 513.0 L821.4 516.4 L825.5 519.9 L829.6 523.3 L833.7 526.7 L837.8 530.0 L841.9 533.3 L846.0 536.6 L850.1 539.9 L854.2 543.1 L858.3 546.3 L862.4 549.5 L866.5 552.7 L870.6 555.8 L874.7 558.9 L878.8 562.0 L882.9 565.1 L887.0 568.1 L891.1 571.1 L895.2 574.1 L899.3 577.0 L903.4 579.9 L907.5 582.8 L911.6 585.7 L915.7 588.5 L919.8 591.3 L923.9 594.1 L928.0 596.8 L932.1 599.5 L936.2 602.1 L940.3 604.7 L944.4 607.3 L948.5 609.8 L952.6 612.2 L956.7 614.6 L960.8 617.0 L964.9 619.3 L964.85 662.6 L227.15 662.6Z" fill="#006400" fill-opacity="0.6" stroke="none"/>
<path d="M227.2 581.0 L231.2 576.5 L235.3 571.8 L239.4 567.1 L243.5 562.2 L247.6 557.2 L251.7 552.0 L255.8 546.8 L259.9 541.4 L264.0 535.8 L268.1 530.2 L272.2 524.4 L276.3 518.5 L280.4 512.5 L284.5 506.4 L288.6 500.1 L292.7 493.7 L296.8 487.2 L300.9 480.6 L305.0 473.9 L309.1 467.1 L313.2 460.2 L317.3 453.2 L321.4 446.2 L325.5 439.0 L329.6 431.8 L333.7 424.5 L337.8 417.2 L341.9 409.8 L346.0 402.4 L350.1 394.9 L354.2 387.4 L358.3 380.0 L362.4 372.5 L366.5 365.1 L370.6 357.6 L374.7 350.2 L378.8 342.9 L382.9 335.6 L387.0 328.3 L391.1 321.1 L395.2 314.0 L399.3 307.0 L403.4 300.1 L407.5 293.3 L411.6 286.6 L415.7 280.0 L419.8 273.5 L423.9 267.2 L428.0 261.0 L432.1 254.9 L436.2 249.0 L440.3 243.2 L444.4 237.7 L448.5 232.3 L452.6 227.0 L456.7 222.0 L460.8 217.2 L464.9 212.6 L469.0 208.2 L473.1 204.0 L477.1 200.1 L481.2 196.4 L485.3 193.0 L489.4 189.9 L493.5 187.0 L497.6 184.4 L501.7 182.1 L505.8 180.2 L509.9 178.6 L514.0 177.2 L518.1 176.3 L522.2 175.7 L526.3 175.4 L530.4 175.5 L534.5 176.0 L538.6 176.8 L542.7 178.1 L546.8 179.6 L550.9 181.6 L555.0 183.9 L559.1 186.6 L563.2 189.7 L567.3 193.1 L571.4 196.8 L575.5 200.9 L579.6 205.2 L583.7 209.9 L587.8 214.8 L591.9 220.0 L596.0 225.5 L600.1 231.1 L604.2 236.9 L608.3 242.9 L612.4 249.1 L616.5 255.4 L620.6 261.8 L624.7 268.3 L628.8 274.9 L632.9 281.6 L637.0 288.3 L641.1 295.0 L645.2 301.7 L649.3 308.4 L653.4 315.1 L657.5 321.7 L661.6 328.3 L665.7 334.9 L669.8 341.4 L673.9 347.8 L678.0 354.1 L682.1 360.4 L686.2 366.6 L690.3 372.6 L694.4 378.6 L698.5 384.4 L702.6 390.2 L706.7 395.8 L710.8 401.3 L714.9 406.8 L719.0 412.1 L723.0 417.3 L727.1 422.4 L731.2 427.3 L735.3 432.2 L739.4 437.0 L743.5 441.7 L747.6 446.3 L751.7 450.8 L755.8 455.2 L759.9 459.5 L764.0 463.7 L768.1 467.9 L772.2 471.9 L776.3 475.9 L780.4 479.9 L784.5 483.8 L788.6 487.6 L792.7 491.4 L796.8 495.1 L800.9 498.7 L805.0 502.4 L809.1 505.9 L813.2 509.5 L817.3 513.0 L821.4 516.4 L825.5 519.9 L829.6 523.3 L833.7 526.7 L837.8 530.0 L841.9 533.3 L846.0 536.6 L850.1 539.9 L854.2 543.1 L858.3 546.3 L862.4 549.5 L866.5 552.7 L870.6 555.8 L874.7 558.9 L878.8 562.0 L882.9 565.1 L887.0 568.1 L891.1 571.1 L895.2 574.1 L899.3 577.0 L903.4 579.9 L907.5 582.8 L911.6 585.7 L915.7 588.5 L919.8 591.3 L923.9 594.1 L928.0 596.8 L932.1 599.5 L936.2 602.1 L940.3 604.7 L944.4 607.3 L948.5 609.8 L952.6 612.2 L956.7 614.6 L960.8 617.0 L964.9 619.3" fill="none" stroke="#000000" stroke-width="3.5" stroke-linejoin="round" stroke-linecap="butt"/>
<path d="M227.30 693.8v14.7M309.25 693.8v14.7M391.20 693.8v14.7M473.15 693.8v14.7M555.10 693.8v14.7M637.05 693.8v14.7M719.00 693.8v14.7M800.95 693.8v14.7M882.90 693.8v14.7M964.85 693.8v14.7M190.8 662.90h-14.7M190.8 537.04h-14.7M190.8 411.18h-14.7M190.8 285.32h-14.7M190.8 159.46h-14.7M190.8 33.60h-14.7" stroke="#333333" stroke-width="5.7" fill="none"/>
<text transform="translate(227.3 754.8) scale(1 1.04)" font-size="47.3" fill="#484848" text-anchor="middle">0</text>
<text transform="translate(309.2 754.8) scale(1 1.04)" font-size="47.3" fill="#484848" text-anchor="middle">1</text>
<text transform="translate(391.2 754.8) scale(1 1.04)" font-size="47.3" fill="#484848" text-anchor="middle">2</text>
<text transform="translate(473.2 754.8) scale(1 1.04)" font-size="47.3" fill="#484848" text-anchor="middle">3</text>
<text transform="translate(555.1 754.8) scale(1 1.04)" font-size="47.3" fill="#484848" text-anchor="middle">4</text>
<text transform="translate(637.0 754.8) scale(1 1.04)" font-size="47.3" fill="#484848" text-anchor="middle">5</text>
<text transform="translate(719.0 754.8) scale(1 1.04)" font-size="47.3" fill="#484848" text-anchor="middle">6</text>
<text transform="translate(801.0 754.8) scale(1 1.04)" font-size="47.3" fill="#484848" text-anchor="middle">7</text>
<text transform="translate(882.9 754.8) scale(1 1.04)" font-size="47.3" fill="#484848" text-anchor="middle">8</text>
<text transform="translate(964.9 754.8) scale(1 1.04)" font-size="47.3" fill="#484848" text-anchor="middle">9</text>
<text transform="translate(164.2 680.3) scale(1 1.04)" font-size="47.3" fill="#484848" text-anchor="end">0.00</text>
<text transform="translate(164.2 554.4) scale(1 1.04)" font-size="47.3" fill="#484848" text-anchor="end">0.05</text>
<text transform="translate(164.2 428.6) scale(1 1.04)" font-size="47.3" fill="#484848" text-anchor="end">0.10</text>
<text transform="translate(164.2 302.7) scale(1 1.04)" font-size="47.3" fill="#484848" text-anchor="end">0.15</text>
<text transform="translate(164.2 176.9) scale(1 1.04)" font-size="47.3" fill="#484848" text-anchor="end">0.20</text>
<text transform="translate(164.2 51.0) scale(1 1.04)" font-size="47.3" fill="#484848" text-anchor="end">0.25</text>
<text transform="translate(596.8 821.5) scale(1 1.04)" font-size="59.5" fill="#000" text-anchor="middle">Senescence score</text>
<text transform="translate(44.9 348.3) rotate(-90) scale(1 1.04)" font-size="59.5" fill="#000" text-anchor="middle">Density</text>
<text transform="translate(1090.2 183.6) scale(1 1.04)" font-size="59.5" fill="#000" text-anchor="start">Provenance</text>
<rect x="1091" y="221.85" width="55.2" height="56.90" fill="#f2f2f2"/>
<rect x="1092.75" y="223.60" width="51.7" height="51.4" fill="#f02828" fill-opacity="0.6" stroke="#000" stroke-width="3.5"/>
<text transform="translate(1176.6 267.5) scale(1 1.04)" font-size="47.3" fill="#000" text-anchor="start">A1270</text>
<rect x="1091" y="278.75" width="55.2" height="56.90" fill="#f2f2f2"/>
<rect x="1092.75" y="280.50" width="51.7" height="51.4" fill="#8b0000" fill-opacity="0.6" stroke="#000" stroke-width="3.5"/>
<text transform="translate(1176.6 324.4) scale(1 1.04)" font-size="47.3" fill="#000" text-anchor="start">A1900</text>
<rect x="1091" y="335.65" width="55.2" height="56.90" fill="#f2f2f2"/>
<rect x="1092.75" y="337.40" width="51.7" height="51.4" fill="#a020f0" fill-opacity="0.6" stroke="#000" stroke-width="3.5"/>
<text transform="translate(1176.6 381.3) scale(1 1.04)" font-size="47.3" fill="#000" text-anchor="start">DK-F13</text>
<rect x="1091" y="392.55" width="55.2" height="56.90" fill="#f2f2f2"/>
<rect x="1092.75" y="394.30" width="51.7" height="51.4" fill="#0000ff" fill-opacity="0.6" stroke="#000" stroke-width="3.5"/>
<text transform="translate(1176.6 438.2) scale(1 1.04)" font-size="47.3" fill="#000" text-anchor="start">DK-F419</text>
<rect x="1091" y="449.45" width="55.2" height="56.90" fill="#f2f2f2"/>
<rect x="1092.75" y="451.20" width="51.7" height="51.4" fill="#73ef00" fill-opacity="0.6" stroke="#000" stroke-width="3.5"/>
<text transform="translate(1176.6 495.1) scale(1 1.04)" font-size="47.3" fill="#000" text-anchor="start">SG1300</text>
<rect x="1091" y="506.35" width="55.2" height="56.90" fill="#f2f2f2"/>
<rect x="1092.75" y="508.10" width="51.7" height="51.4" fill="#006400" fill-opacity="0.6" stroke="#000" stroke-width="3.5"/>
<text transform="translate(1176.6 552.0) scale(1 1.04)" font-size="47.3" fill="#000" text-anchor="start">SG1900</text>
</svg></body></html>
